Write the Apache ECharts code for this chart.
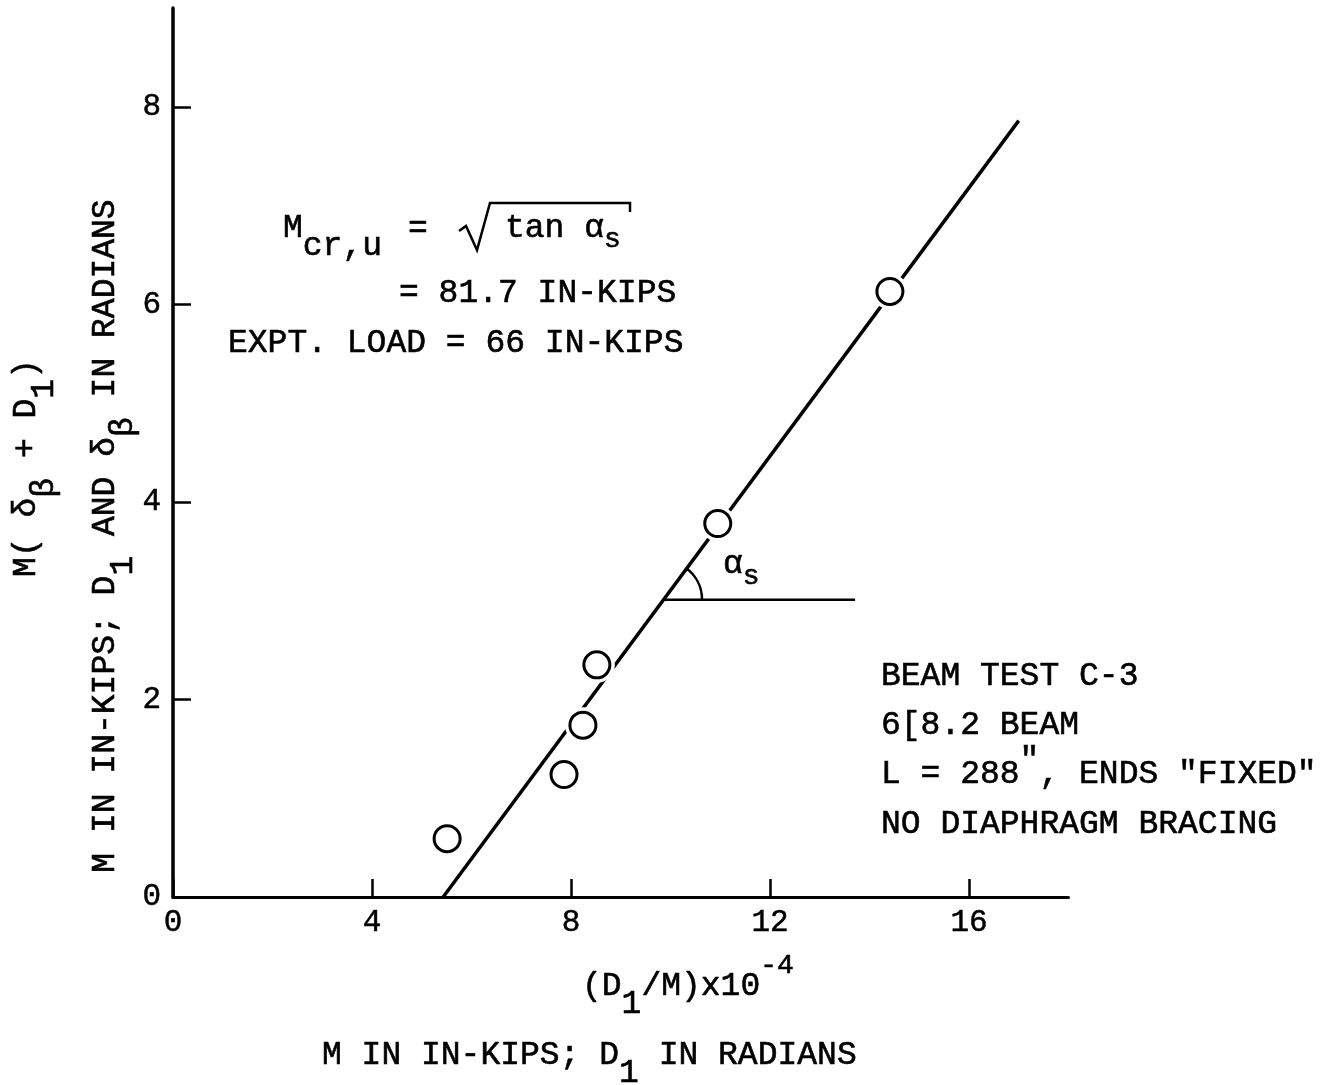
<!DOCTYPE html>
<html><head><meta charset="utf-8">
<script src="https://cdn.jsdelivr.net/npm/echarts@6/dist/echarts.min.js"></script>
<style>html,body{margin:0;padding:0;background:#fff}#c{width:1331px;height:1085px}</style>
</head><body><div id="c"></div>
<script>
// ---- data ----
const xTicks = [0, 4, 8, 12, 16];
const yTicks = [0, 2, 4, 6, 8];
const pointsX = [5.51, 7.86, 8.24, 8.52, 10.95, 14.41];
const pointsY = [0.59, 1.24, 1.74, 2.35, 3.78, 6.13];
const fitX = [5.43, 17.0];
const fitY = [0, 7.86];
const angleX = [9.85, 13.71];
const angleY = [3.01, 3.01];

const FONT = '"Liberation Mono", "DejaVu Sans Mono", monospace';
const FS = 33;
const SW = 0.6;
const pts = pointsX.map((x, i) => [x, pointsY[i]]);
const fit = fitX.map((x, i) => [x, fitY[i]]);
const ang = angleX.map((x, i) => [x, angleY[i]]);

const rich = {
  sub: { fontSize: FS, fontFamily: FONT, fill: '#000', stroke: '#000', lineWidth: SW, padding: [36, 0, 0, 0] },
  s: { fontSize: 28, fontFamily: FONT, fill: '#000', stroke: '#000', lineWidth: SW, padding: [24, 0, 0, 0] },
  sup: { fontSize: FS, fontFamily: FONT, fill: '#000', stroke: '#000', lineWidth: SW, padding: [0, 0, 28, 0] },
  sup4: { fontSize: 28, fontFamily: FONT, fill: '#000', stroke: '#000', lineWidth: SW, padding: [0, 0, 40, 0] }
};
function txt(x, y, text, opt) {
  opt = opt || {};
  return {
    type: 'text', x: x, y: y, z: 100, rotation: opt.rotation || 0,
    style: {
      text: text, rich: rich, fontSize: opt.fontSize || FS, fontFamily: FONT, fill: '#000',
      stroke: '#000', lineWidth: SW,
      align: opt.align || 'left', verticalAlign: 'middle'
    }
  };
}

const chart = echarts.init(document.getElementById('c'));
const axisCommon = {
  type: 'value',
  axisLine: { show: true, onZero: false, lineStyle: { color: '#000', width: 3 } },
  splitLine: { show: false },
};
const labelStyle = { fontSize: 31, fontFamily: FONT, color: '#000', textBorderColor: '#000', textBorderWidth: 0.5 };
chart.setOption({
  animation: false,
  backgroundColor: '#fff',
  grid: { left: 173, right: 262.5, top: 8, bottom: 188, containLabel: false, outerBoundsMode: 'none' },
  xAxis: Object.assign({}, axisCommon, {
    min: 0, max: 18, interval: 4,
    axisTick: { show: true, inside: true, length: 18, customValues: xTicks, lineStyle: { color: '#000', width: 2.5 } },
    axisLabel: Object.assign({ customValues: xTicks, margin: 10 }, labelStyle)
  }),
  yAxis: Object.assign({}, axisCommon, {
    min: 0, max: 9, interval: 1,
    axisLine: { show: true, onZero: false, lineStyle: { color: '#000', width: 3.5 } },
    axisTick: { show: true, inside: true, length: 18, customValues: yTicks, lineStyle: { color: '#000', width: 2.5 } },
    axisLabel: Object.assign({ customValues: yTicks, margin: 12 }, labelStyle)
  }),
  series: [
    { type: 'line', data: fit, symbol: 'none', z: 2, lineStyle: { color: '#000', width: 3.5 }, silent: true },
    { type: 'line', data: ang, symbol: 'none', z: 2, lineStyle: { color: '#000', width: 2.5 }, silent: true },
    { type: 'scatter', data: pts, symbolSize: 36, z: 3, itemStyle: { color: '#fff', borderWidth: 0, opacity: 1 }, silent: true },
    { type: 'scatter', data: pts, symbolSize: 26, z: 4, itemStyle: { color: '#fff', borderColor: '#000', borderWidth: 3, opacity: 1 }, silent: true }
  ]
});

// angle arc anchored at the horizontal segment start
const p0 = chart.convertToPixel({ gridIndex: 0 }, ang[0]);
const f0 = chart.convertToPixel({ gridIndex: 0 }, fit[0]);
const f1 = chart.convertToPixel({ gridIndex: 0 }, fit[1]);
const lineAngle = Math.atan2(f1[1] - f0[1], f1[0] - f0[0]);

chart.setOption({
  graphic: [
    { type: 'arc', z: 50, shape: { cx: p0[0], cy: p0[1], r: 39, startAngle: lineAngle, endAngle: 0, clockwise: true },
      style: { stroke: '#000', lineWidth: 2.5, fill: null } },
    txt(p0[0] + 60, p0[1] - 35, 'α{s|s}'),
    // equation
    txt(283, 228, 'M{sub|cr,u}'),
    txt(408, 229, '='),
    { type: 'polyline', z: 50, shape: { points: [[459, 231], [466, 226], [477, 250], [490, 203], [630, 203], [630, 212]] },
      style: { stroke: '#000', lineWidth: 2.5, fill: null } },
    txt(505, 228, 'tan α{s|s}'),
    txt(399, 293, '= 81.7 IN-KIPS'),
    txt(228, 343, 'EXPT. LOAD = 66 IN-KIPS'),
    // beam info
    txt(881, 676, 'BEAM TEST C-3'),
    txt(881, 725, '6[8.2 BEAM'),
    txt(881, 774, 'L = 288{sup|"}, ENDS "FIXED"'),
    txt(881, 824, 'NO DIAPHRAGM BRACING'),
    // x axis titles
    txt(582, 986, '(D{sub|1}/M)x10{sup4|-4}'),
    txt(322, 1055, 'M IN IN-KIPS; D{sub|1} IN RADIANS'),
    // y axis titles (rotated)
    txt(26, 468, 'M( δ{sub|β} + D{sub|1})', { rotation: Math.PI / 2, align: 'center' }),
    txt(105, 536, 'M IN IN-KIPS; D{sub|1} AND δ{sub|β} IN RADIANS', { rotation: Math.PI / 2, align: 'center' })
  ]
});
</script>
</body></html>
